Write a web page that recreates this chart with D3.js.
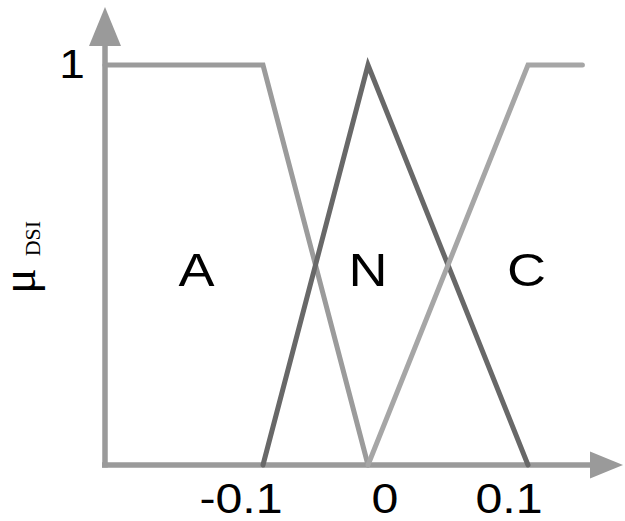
<!DOCTYPE html>
<html>
<head>
<meta charset="utf-8">
<script src="https://cdn.jsdelivr.net/npm/d3@7/dist/d3.min.js"></script>
<style>
  html, body { margin: 0; padding: 0; background: #ffffff; }
  svg { display: block; }
</style>
</head>
<body>
<svg id="chart" width="625" height="521"></svg>
<script>
// Fuzzy sets for the DSI input: A, N, C
const setNames = ["A", "N", "C"];
const setA = [[-0.2, 1], [-0.1, 1], [0, 0]];
const setN = [[-0.1, 0], [0, 1], [0.1, 0]];
const setC = [[0, 0], [0.1, 1], [0.134, 1]];
const xTicks = [-0.1, 0, 0.1];
const xTickLabels = ["-0.1", "0", "0.1"];
const yTicks = [1];
const yTickLabels = ["1"];

const svg = d3.select("#chart");

// piecewise x scale: the universe is drawn wider right of zero
const x = d3.scaleLinear()
  .domain([-0.2, -0.1, 0, 0.1, 0.2])
  .range([105, 263, 368, 528, 688]);
const y = d3.scaleLinear().domain([0, 1]).range([465, 65]);

const axisColor = "#9a9a9a";
const font = "'Liberation Sans', Arial, Helvetica, sans-serif";
const serif = "'Liberation Serif', 'Times New Roman', serif";
const stretch = 1.15;

// axes with arrow heads
const x0 = x(-0.2), y0 = y(0);
svg.append("line")
  .attr("x1", x0 - 3).attr("y1", y0).attr("x2", 592).attr("y2", y0)
  .attr("stroke", axisColor).attr("stroke-width", 5.5);
svg.append("path")
  .attr("d", `M590,${y0 - 13.5}L623,${y0}L590,${y0 + 13.5}Z`)
  .attr("fill", axisColor);
svg.append("line")
  .attr("x1", x0).attr("y1", y0 + 2.5).attr("x2", x0).attr("y2", 44)
  .attr("stroke", axisColor).attr("stroke-width", 5.5);
svg.append("path")
  .attr("d", `M${x0 - 16},46L${x0},7L${x0 + 16},46Z`)
  .attr("fill", axisColor);

// membership functions
const line = d3.line().x(d => x(d[0])).y(d => y(d[1]));
const sets = [
  { data: setA, color: "#9b9b9b" },
  { data: setN, color: "#686868" },
  { data: setC, color: "#a6a6a6" }
];
svg.selectAll("path.mf").data(sets).enter().append("path")
  .attr("class", "mf")
  .attr("d", d => line(d.data))
  .attr("fill", "none")
  .attr("stroke", d => d.color)
  .attr("stroke-width", 5)
  .attr("stroke-linejoin", "miter")
  .attr("stroke-linecap", "round");

// tick labels
const tickShift = [-22, 17, -19];
svg.selectAll("text.xt").data(xTicks).enter().append("text")
  .attr("class", "xt")
  .attr("transform", (d, i) => `translate(${x(d) + tickShift[i]},513) scale(${stretch},1)`)
  .attr("text-anchor", "middle")
  .attr("font-family", font).attr("font-size", 42)
  .attr("fill", "#000")
  .text((d, i) => xTickLabels[i]);

svg.selectAll("text.yt").data(yTicks).enter().append("text")
  .attr("class", "yt")
  .attr("transform", d => `translate(72,${y(d) + 13}) scale(${stretch},1)`)
  .attr("text-anchor", "middle")
  .attr("font-family", font).attr("font-size", 40)
  .attr("fill", "#000")
  .text((d, i) => yTickLabels[i]);

// set names inside the plot
const namePos = [-0.142, 0, 0.099];
svg.selectAll("text.set").data(setNames).enter().append("text")
  .attr("class", "set")
  .attr("transform", (d, i) => `translate(${x(namePos[i])},${y(0.5) + 21}) scale(${stretch},1)`)
  .attr("text-anchor", "middle")
  .attr("font-family", font).attr("font-size", 47)
  .attr("fill", "#000")
  .text(d => d);

// y axis title: mu with DSI subscript
const yTitle = svg.append("text")
  .attr("transform", "translate(35,294) rotate(-90)")
  .attr("fill", "#000");
yTitle.append("tspan")
  .attr("font-family", serif).attr("font-size", 48)
  .text("μ");
yTitle.append("tspan")
  .attr("dx", 12).attr("dy", 5)
  .attr("font-family", serif).attr("font-size", 22)
  .text("DSI");
</script>
</body>
</html>
